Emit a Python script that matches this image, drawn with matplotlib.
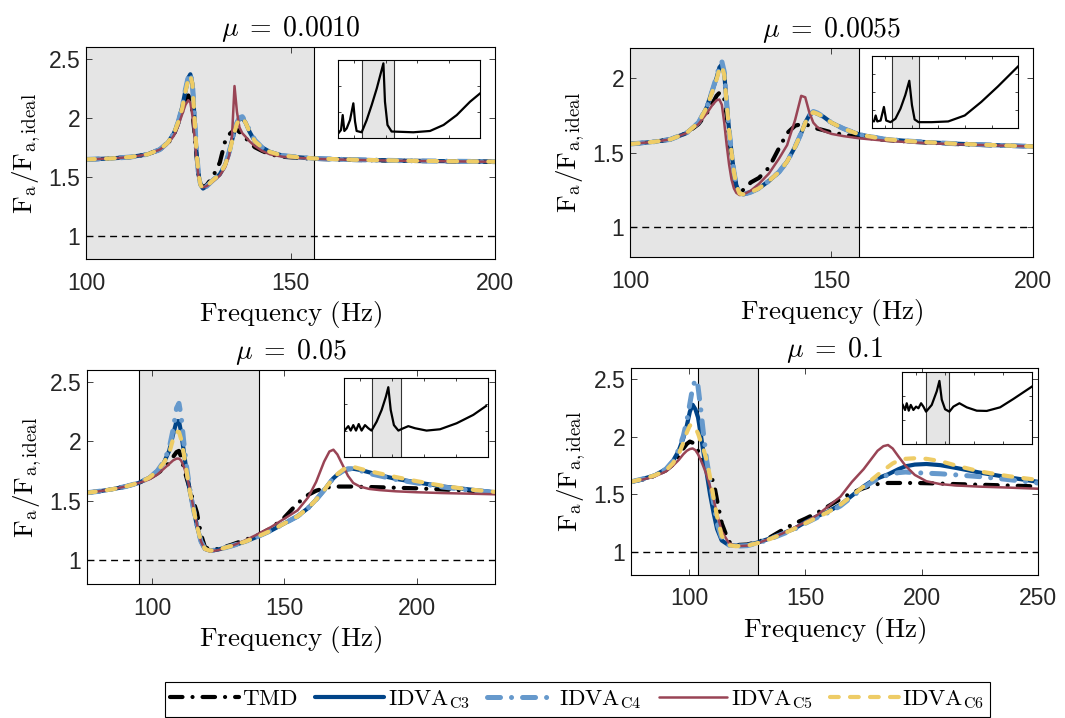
# Normalised actuator force vs frequency for the four mass ratios

import matplotlib
matplotlib.use("Agg")
import matplotlib.pyplot as plt

plt.rcParams['mathtext.fontset'] = 'cm'
plt.rcParams['font.family'] = ['Liberation Sans', 'DejaVu Sans']

# ---------------- data ----------------
series_names = ['TMD', 'IDVA_{C3}', 'IDVA_{C4}', 'IDVA_{C5}', 'IDVA_{C6}']
mu_labels = ['0.0010', '0.0055', '0.05', '0.1']

# mu = 0.0010
f1 = [100, 106, 111, 115, 118, 120, 121.5, 122.5, 123.5, 124.3, 125, 125.5, 126, 126.5, 127, 127.5,
      128, 128.6, 129.5, 131, 132.7, 134, 135, 135.7, 136.3, 136.9, 137.5, 138.2, 139, 140, 141.3,
      143, 145, 148, 152, 156, 165, 180, 200]
tmd1 = [1.647, 1.655, 1.667, 1.69, 1.73, 1.78, 1.86, 1.95, 2.05, 2.15, 2.19, 2.16, 2.05, 1.88, 1.68, 1.52,
        1.44, 1.41, 1.43, 1.50, 1.62, 1.80, 1.86, 1.88, 1.90, 1.90, 1.88, 1.86, 1.83, 1.79, 1.75,
        1.72, 1.69, 1.67, 1.66, 1.652, 1.643, 1.634, 1.627]
c3_1 = [1.647, 1.655, 1.668, 1.69, 1.73, 1.79, 1.87, 1.96, 2.09, 2.23, 2.34, 2.37, 2.29, 2.01, 1.71, 1.52,
        1.43, 1.40, 1.42, 1.47, 1.52, 1.60, 1.71, 1.81, 1.89, 1.96, 1.99, 2.00, 1.96, 1.88, 1.80,
        1.75, 1.71, 1.68, 1.665, 1.655, 1.645, 1.635, 1.628]
c4_1 = [1.647, 1.655, 1.668, 1.69, 1.73, 1.79, 1.87, 1.96, 2.09, 2.24, 2.35, 2.38, 2.30, 2.02, 1.72, 1.52,
        1.43, 1.40, 1.42, 1.47, 1.52, 1.60, 1.71, 1.81, 1.89, 1.96, 2.00, 2.01, 1.97, 1.89, 1.81,
        1.75, 1.71, 1.68, 1.665, 1.655, 1.645, 1.635, 1.628]
c5_1 = [1.647, 1.655, 1.667, 1.69, 1.73, 1.78, 1.85, 1.93, 2.03, 2.11, 2.15, 2.13, 2.02, 1.85, 1.65, 1.50,
        1.43, 1.41, 1.42, 1.46, 1.51, 1.58, 1.68, 1.85, 2.27, 2.05, 1.92, 1.87, 1.84, 1.80, 1.76,
        1.72, 1.69, 1.67, 1.66, 1.652, 1.643, 1.634, 1.627]
c6_1 = [1.647, 1.655, 1.668, 1.69, 1.73, 1.79, 1.87, 1.96, 2.08, 2.22, 2.33, 2.36, 2.29, 2.02, 1.72, 1.52,
        1.43, 1.40, 1.42, 1.47, 1.52, 1.60, 1.70, 1.80, 1.88, 1.95, 1.99, 2.00, 1.96, 1.88, 1.80,
        1.75, 1.71, 1.68, 1.665, 1.655, 1.645, 1.635, 1.628]

# mu = 0.0055
f2 = [100, 106, 110, 114, 117, 119, 120.5, 121.5, 122.2, 122.8, 123.4, 124, 124.6, 125.2, 125.8, 126.4,
      127.2, 128.2, 130, 132, 134.5, 137, 139, 141, 142.5, 143.5, 144.5, 145.5, 146.5, 148, 150, 153,
      157, 163, 170, 180, 190, 200]
tmd2 = [1.557, 1.572, 1.588, 1.63, 1.69, 1.76, 1.83, 1.88, 1.90, 1.90, 1.86, 1.75, 1.60, 1.47, 1.35, 1.27,
        1.24, 1.25, 1.30, 1.33, 1.40, 1.53, 1.63, 1.68, 1.69, 1.69, 1.68, 1.67, 1.66, 1.65, 1.635, 1.62,
        1.605, 1.585, 1.572, 1.558, 1.548, 1.541]
c3_2 = [1.557, 1.572, 1.588, 1.63, 1.70, 1.80, 1.92, 2.00, 2.07, 2.09, 2.03, 1.83, 1.65, 1.50, 1.37, 1.28,
        1.225, 1.22, 1.235, 1.26, 1.31, 1.37, 1.44, 1.54, 1.63, 1.70, 1.75, 1.77, 1.76, 1.74, 1.70, 1.66,
        1.62, 1.59, 1.575, 1.56, 1.55, 1.541]
c4_2 = [1.557, 1.572, 1.588, 1.63, 1.70, 1.80, 1.92, 2.01, 2.08, 2.11, 2.04, 1.83, 1.65, 1.50, 1.37, 1.28,
        1.225, 1.22, 1.235, 1.26, 1.31, 1.37, 1.44, 1.54, 1.63, 1.70, 1.75, 1.775, 1.765, 1.74, 1.70, 1.66,
        1.62, 1.59, 1.575, 1.56, 1.55, 1.541]
c5_2 = [1.557, 1.572, 1.588, 1.63, 1.69, 1.76, 1.82, 1.85, 1.855, 1.82, 1.70, 1.55, 1.42, 1.32, 1.26, 1.23,
        1.215, 1.22, 1.245, 1.29, 1.36, 1.46, 1.55, 1.72, 1.88, 1.87, 1.77, 1.70, 1.67, 1.645, 1.625, 1.61,
        1.595, 1.58, 1.568, 1.556, 1.548, 1.541]
c6_2 = [1.557, 1.572, 1.588, 1.63, 1.70, 1.80, 1.91, 1.99, 2.06, 2.08, 2.02, 1.83, 1.65, 1.50, 1.37, 1.28,
        1.225, 1.22, 1.235, 1.26, 1.31, 1.37, 1.44, 1.54, 1.63, 1.70, 1.75, 1.77, 1.76, 1.74, 1.70, 1.66,
        1.62, 1.59, 1.575, 1.56, 1.55, 1.541]

# mu = 0.05
f3 = [75.5, 80, 85, 90, 95, 99, 102, 104.5, 106.5, 108, 109.3, 110.2, 111, 112, 113, 114.3, 115.6, 117,
      118.5, 120, 122, 125, 130, 135, 140, 145, 150, 155, 159, 162, 165, 167, 168.5, 170, 172, 174, 176,
      178.5, 182, 186, 192, 200, 210, 220, 229.5]
tmd3 = [1.568, 1.58, 1.597, 1.62, 1.65, 1.69, 1.73, 1.77, 1.82, 1.87, 1.91, 1.92, 1.87, 1.78, 1.70, 1.60,
        1.50, 1.40, 1.22, 1.11, 1.09, 1.095, 1.13, 1.17, 1.21, 1.27, 1.36, 1.48, 1.55, 1.585, 1.605, 1.615,
        1.618, 1.62, 1.62, 1.62, 1.62, 1.618, 1.616, 1.614, 1.61, 1.605, 1.595, 1.585, 1.57]
c3_3 = [1.568, 1.58, 1.597, 1.62, 1.65, 1.695, 1.75, 1.82, 1.92, 2.06, 2.17, 2.17, 2.08, 1.92, 1.76, 1.58,
        1.44, 1.29, 1.16, 1.095, 1.08, 1.09, 1.12, 1.155, 1.20, 1.25, 1.31, 1.37, 1.44, 1.51, 1.59, 1.65,
        1.69, 1.72, 1.75, 1.765, 1.77, 1.76, 1.74, 1.715, 1.685, 1.655, 1.62, 1.595, 1.572]
c4_3 = [1.568, 1.58, 1.597, 1.62, 1.65, 1.695, 1.75, 1.83, 1.94, 2.10, 2.28, 2.32, 2.22, 2.00, 1.80, 1.60,
        1.44, 1.29, 1.16, 1.095, 1.08, 1.09, 1.12, 1.155, 1.20, 1.25, 1.31, 1.37, 1.44, 1.51, 1.59, 1.65,
        1.69, 1.72, 1.75, 1.77, 1.77, 1.755, 1.73, 1.71, 1.68, 1.65, 1.615, 1.59, 1.57]
c5_3 = [1.568, 1.58, 1.597, 1.62, 1.65, 1.68, 1.72, 1.77, 1.81, 1.84, 1.855, 1.855, 1.84, 1.79, 1.72, 1.60,
        1.45, 1.30, 1.16, 1.09, 1.075, 1.085, 1.12, 1.165, 1.22, 1.28, 1.35, 1.42, 1.53, 1.66, 1.83, 1.915,
        1.93, 1.89, 1.80, 1.71, 1.65, 1.62, 1.60, 1.59, 1.58, 1.572, 1.565, 1.56, 1.555]
c6_3 = [1.568, 1.58, 1.597, 1.62, 1.65, 1.695, 1.75, 1.82, 1.90, 2.02, 2.08, 2.08, 2.02, 1.90, 1.76, 1.58,
        1.44, 1.29, 1.16, 1.095, 1.08, 1.09, 1.12, 1.155, 1.20, 1.25, 1.31, 1.37, 1.44, 1.51, 1.59, 1.65,
        1.69, 1.725, 1.76, 1.785, 1.785, 1.77, 1.75, 1.73, 1.70, 1.665, 1.625, 1.595, 1.575]

# mu = 0.1
f4 = [75, 80, 85, 90, 93, 95.5, 97.5, 99, 100.3, 101.5, 102.7, 103.8, 105, 106.2, 107.5, 109, 110.5, 112,
      114, 117, 120, 125, 130, 135, 140, 145, 150, 155, 160, 165, 170, 175, 178, 181, 183.5, 185.5, 187.5,
      190, 193, 197, 202, 208, 215, 225, 237, 250]
tmd4 = [1.61, 1.63, 1.66, 1.71, 1.76, 1.83, 1.90, 1.94, 1.96, 1.95, 1.92, 1.88, 1.83, 1.78, 1.72, 1.66, 1.61,
        1.45, 1.25, 1.09, 1.06, 1.065, 1.09, 1.13, 1.19, 1.245, 1.29, 1.34, 1.40, 1.46, 1.515, 1.555, 1.575,
        1.59, 1.595, 1.60, 1.60, 1.60, 1.60, 1.60, 1.598, 1.595, 1.59, 1.585, 1.578, 1.57]
c3_4 = [1.61, 1.635, 1.665, 1.72, 1.79, 1.88, 1.99, 2.10, 2.22, 2.28, 2.24, 2.17, 2.02, 1.86, 1.69, 1.50, 1.34,
        1.20, 1.10, 1.06, 1.055, 1.06, 1.085, 1.12, 1.16, 1.20, 1.26, 1.31, 1.355, 1.41, 1.49, 1.57, 1.61,
        1.64, 1.66, 1.675, 1.695, 1.72, 1.745, 1.76, 1.765, 1.755, 1.73, 1.69, 1.65, 1.61]
c4_4 = [1.61, 1.635, 1.665, 1.72, 1.79, 1.89, 2.01, 2.14, 2.29, 2.43, 2.50, 2.44, 2.24, 2.02, 1.80, 1.62, 1.43,
        1.25, 1.12, 1.06, 1.05, 1.055, 1.08, 1.115, 1.155, 1.195, 1.25, 1.30, 1.345, 1.40, 1.48, 1.56, 1.60,
        1.635, 1.655, 1.67, 1.68, 1.69, 1.695, 1.69, 1.685, 1.68, 1.67, 1.655, 1.63, 1.60]
c5_4 = [1.61, 1.63, 1.655, 1.70, 1.75, 1.80, 1.85, 1.88, 1.895, 1.90, 1.885, 1.85, 1.80, 1.74, 1.67, 1.57,
        1.46, 1.33, 1.18, 1.08, 1.05, 1.055, 1.08, 1.12, 1.16, 1.21, 1.26, 1.32, 1.40, 1.48, 1.61, 1.72, 1.80,
        1.88, 1.92, 1.93, 1.90, 1.83, 1.75, 1.67, 1.615, 1.59, 1.578, 1.568, 1.56, 1.55]
c6_4 = [1.61, 1.635, 1.665, 1.71, 1.77, 1.85, 1.95, 2.04, 2.10, 2.11, 2.08, 2.03, 1.96, 1.89, 1.80, 1.65,
        1.47, 1.31, 1.14, 1.06, 1.05, 1.055, 1.08, 1.115, 1.155, 1.20, 1.25, 1.30, 1.35, 1.41, 1.49, 1.57,
        1.62, 1.67, 1.71, 1.74, 1.77, 1.795, 1.81, 1.815, 1.81, 1.79, 1.75, 1.70, 1.66, 1.626]

# shaded frequency bands (left edge, right edge) and x ranges of the main panels
bands = [(100, 155.8), (100, 156.8), (95.2, 140.3), (103.6, 129.6)]
xlims = [(100, 200), (100, 200), (75.5, 229.5), (75, 250)]
xticks = [[100, 150, 200], [100, 150, 200], [100, 150, 200], [100, 150, 200, 250]]
yticks = [[1, 1.5, 2, 2.5], [1, 1.5, 2], [1, 1.5, 2, 2.5], [1, 1.5, 2, 2.5]]
ylims = [(0.8, 2.6), (0.8, 2.2), (0.8, 2.6), (0.8, 2.6)]

# inset curves
ins1_f = [50, 58.5, 63.8, 69, 76.5, 87, 97.6, 103, 108, 124, 140, 156, 172, 193, 198, 206, 219, 288, 341,
          384, 426, 468, 500]
ins1_v = [0.19, 0.32, 0.89, 0.28, 0.38, 0.70, 1.34, 0.64, 0.28, 0.23, 0.70, 1.28, 1.91, 2.87, 1.40, 0.51,
          0.26, 0.23, 0.28, 0.51, 0.89, 1.40, 1.72]
ins2_f = [50, 58.7, 64.9, 71, 83.4, 95.8, 104.5, 120.6, 139, 158, 176, 191, 201, 211, 226, 275, 337, 399,
          461, 523, 600]
ins2_v = [0.43, 0.38, 0.71, 0.38, 0.43, 1.18, 0.43, 0.34, 0.53, 1.09, 1.84, 2.63, 1.28, 0.49, 0.34, 0.34,
          0.38, 0.71, 1.46, 2.31, 3.44]
ins3_f = [52, 62.5, 70, 78, 86.5, 95, 104, 114.6, 125, 135, 151, 166.7, 180, 187.5, 195, 205, 219, 229, 250,
          271, 307, 349, 401, 453, 493]
ins3_v = [1.02, 1.17, 1.0, 1.21, 1.0, 1.25, 1.0, 1.21, 1.09, 1.0, 1.34, 1.79, 2.30, 2.66, 1.79, 1.21, 1.0,
          1.06, 1.17, 1.09, 1.0, 1.05, 1.28, 1.60, 1.94]
ins4_f = [53.5, 61.5, 67.3, 74.2, 81.2, 90.4, 99.6, 107.7, 116.9, 125, 134.2, 153.8, 171.2, 180.4, 188.5,
          200, 215, 228.8, 249.6, 275, 309.6, 344.2, 390.4, 436.5, 500]
ins4_v = [1.64, 1.43, 1.71, 1.40, 1.64, 1.43, 1.57, 1.50, 1.71, 1.57, 1.36, 1.64, 2.21, 2.64, 1.86, 1.46,
          1.36, 1.57, 1.71, 1.54, 1.40, 1.39, 1.54, 1.89, 2.40]
ins_bands = [(126, 228), (125, 229), (135, 226), (134, 215)]
ins_xlims = [(50, 500), (50, 600), (50, 500), (50, 500)]
ins_ylims = [(0, 3), (0, 4), (0, 3), (0, 3)]

# ---------------- styles ----------------
styles = [
    dict(color='k', lw=3.0, ls=(0, (3.0, 2.4, 0.01, 2.4)), dash_capstyle='round'),
    dict(color='#004488', lw=3.0, ls='-'),
    dict(color='#6699CC', lw=3.6, ls=(0, (2.6, 2.2, 0.01, 2.2)), dash_capstyle='round'),
    dict(color='#994455', lw=1.8, ls='-'),
    dict(color='#EECC66', lw=3.0, ls=(0, (2.1, 2.7)), dash_capstyle='round'),
]
shade = '#E5E5E5'

main_pos = [[0.0808, 0.639, 0.384, 0.2953],
            [0.5915, 0.642, 0.3784, 0.2911],
            [0.0817, 0.1866, 0.3831, 0.298],
            [0.5925, 0.1992, 0.3822, 0.2883]]
inset_pos = [[0.3177, 0.8074, 0.1331, 0.1091],
             [0.8185, 0.8213, 0.1377, 0.1007],
             [0.3233, 0.3639, 0.1352, 0.1092],
             [0.8467, 0.3812, 0.1221, 0.1003]]

panels = [
    (f1, [tmd1, c3_1, c4_1, c5_1, c6_1]),
    (f2, [tmd2, c3_2, c4_2, c5_2, c6_2]),
    (f3, [tmd3, c3_3, c4_3, c5_3, c6_3]),
    (f4, [tmd4, c3_4, c4_4, c5_4, c6_4]),
]
insets = [(ins1_f, ins1_v), (ins2_f, ins2_v), (ins3_f, ins3_v), (ins4_f, ins4_v)]


def style_box(ax, length):
    ax.tick_params(direction='in', top=True, right=True, length=length, width=0.6,
                   colors='#262626', labelcolor='#262626')
    for sp in ax.spines.values():
        sp.set_linewidth(0.8)
        sp.set_color('k')


fig = plt.figure(figsize=(10.65, 7.18), dpi=100)
handles = []

for i, (freq, curves) in enumerate(panels):
    ax = fig.add_axes(main_pos[i])
    lo, hi = bands[i]
    ax.axvspan(lo, hi, color=shade, lw=0, zorder=0)
    for edge in (lo, hi):
        if edge > xlims[i][0]:
            ax.axvline(edge, color='k', lw=0.8, zorder=1)
    lines = []
    for vals, st in zip(curves, styles):
        ln, = ax.plot(freq, vals, color=st['color'], lw=st['lw'], ls=st['ls'],
                      dash_capstyle=st.get('dash_capstyle', 'butt'), solid_capstyle='round', zorder=2)
        lines.append(ln)
    if i == 0:
        handles = lines
    ax.axhline(1, color='k', lw=1.0, ls=(0, (5, 3.5)), zorder=3)
    ax.set_xlim(xlims[i])
    ax.set_ylim(ylims[i])
    ax.set_xticks(xticks[i])
    ax.set_xticklabels([str(t) for t in xticks[i]])
    ax.set_yticks(yticks[i])
    ax.set_yticklabels(['%g' % t for t in yticks[i]])
    style_box(ax, 4.5)
    ax.tick_params(axis='both', labelsize=16.5)
    ax.tick_params(axis='x', pad=9)
    ax.tick_params(axis='y', pad=4)
    ax.set_title(r'$\mu\;=\;%s$' % mu_labels[i], fontsize=20, pad=8)
    ax.set_xlabel(r'$\mathrm{Frequency\ (Hz)}$', fontsize=19.5, labelpad=3)
    ax.set_ylabel(r'$\mathrm{F_a/F_{a,ideal}}$', fontsize=19.5, labelpad=4)

    # small inset with the wide band response
    ins = fig.add_axes(inset_pos[i])
    ilo, ihi = ins_bands[i]
    ins.axvspan(ilo, ihi, color=shade, lw=0, zorder=0)
    ins.axvline(ilo, color='#333333', lw=0.8, zorder=1)
    ins.axvline(ihi, color='#333333', lw=0.8, zorder=1)
    ins.plot(insets[i][0], insets[i][1], color='k', lw=1.6, zorder=2)
    ins.set_xlim(ins_xlims[i])
    ins.set_ylim(ins_ylims[i])
    ins.set_xticks(list(range(100, ins_xlims[i][1], 100)))
    ins.set_yticks(list(range(1, ins_ylims[i][1])))
    ins.set_xticklabels([])
    ins.set_yticklabels([])
    style_box(ins, 2.5)

labels = [r'$\mathrm{%s}$' % n for n in series_names]
leg = fig.legend(handles, labels, ncol=5, loc='center', bbox_to_anchor=(0.542, 0.026),
                 fontsize=16.5, frameon=True, fancybox=False, edgecolor='k', framealpha=1,
                 handlelength=3.0, handletextpad=0.15, columnspacing=0.75, borderpad=0.25,
                 borderaxespad=0)
leg.get_frame().set_linewidth(0.8)

fig.savefig('out.png', dpi=100)
